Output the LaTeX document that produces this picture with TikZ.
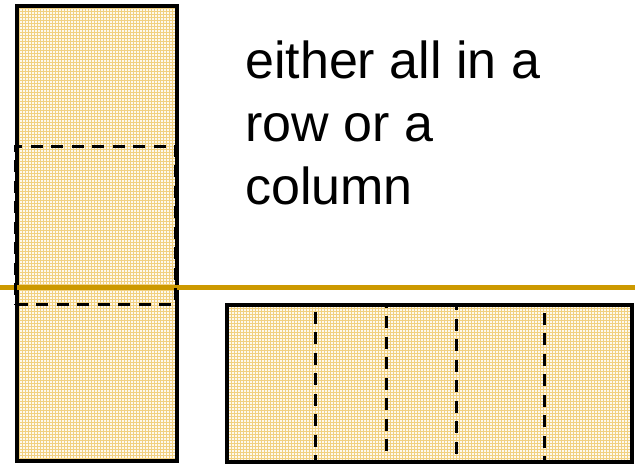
\documentclass[tikz,border=0pt]{standalone}
\usepackage{fontspec}
\setmainfont{Liberation Sans}
\usetikzlibrary{positioning}
\definecolor{rulegold}{RGB}{204,153,0}
\definecolor{paper}{RGB}{253,249,238}
\definecolor{weave}{RGB}{241,208,128}

\begin{document}
\begin{tikzpicture}[
  x=1pt, y=-1pt,
  sheet/.style={rectangle, draw=black, line width=3.4pt, fill=paper,
    inner sep=0pt, outer sep=0pt,
    path picture={\draw[weave, line width=0.7pt]
      (path picture bounding box.south west) grid[step=3pt]
      (path picture bounding box.north east);}},
  part/.style={rectangle, draw=black, line width=3pt,
    dash pattern=on 12pt off 8.5pt, inner sep=0pt, outer sep=0pt},
  divider/.style={draw=rulegold, line width=5pt},
  caption/.style={font=\fontsize{52}{63}\selectfont, align=left,
    inner sep=0pt, anchor=base west},
]
\useasboundingbox (0,0) rectangle (635,464);

% Column of pieces
\node[sheet, minimum width=160pt, minimum height=455pt] (column) at (97,233.5) {};

% Row of pieces
\node[sheet, minimum width=405pt, minimum height=157pt] (row) at (429.5,383.5) {};

% Dividing rule
\coordinate (rule west) at (0,287);
\coordinate (rule east) at (635,287);
\draw[divider] (rule west) -- (rule east);

% Outlined pieces
\node[part, minimum width=160pt, minimum height=158pt] (colpart) at (95.5,225) {};
\node[part, minimum width=71pt, minimum height=158pt] (rowpart a) at (350.5,383) {};
\node[part, minimum width=88pt, minimum height=158pt] (rowpart b) at (500,383) {};

% Caption (anchored on the last line)
\node[caption] (note) at (245,204) {either all in a\\row or a\\column};

\end{tikzpicture}
\end{document}
